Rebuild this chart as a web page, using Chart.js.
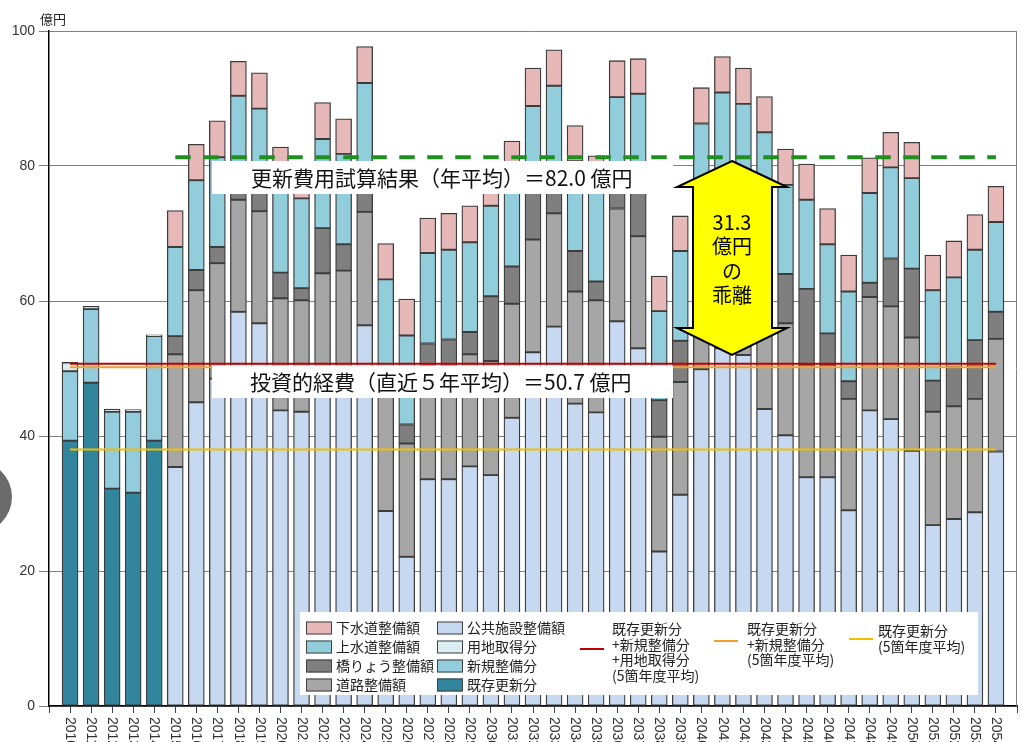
<!DOCTYPE html>
<html lang="ja">
<head>
<meta charset="utf-8">
<title>更新費用試算結果</title>
<script src="https://cdn.jsdelivr.net/npm/chart.js@4.4.1/dist/chart.umd.min.js"></script>
<style>
  html, body { margin: 0; padding: 0; background: #fff; }
  #wrap { position: relative; width: 1022px; height: 742px; }
</style>
</head>
<body>
<div id="wrap"><canvas id="chart"></canvas></div>
<script>
// 年度
const years = ['2010','2011','2012','2013','2014','2015','2016','2017','2018','2019',
  '2020','2021','2022','2023','2024','2025','2026','2027','2028','2029',
  '2030','2031','2032','2033','2034','2035','2036','2037','2038','2039',
  '2040','2041','2042','2043','2044','2045','2046','2047','2048','2049',
  '2050','2051','2052','2053','2054'];
const pastYears = years.slice(0, 5);     // 実績 2010-2014
const futureYears = years.slice(5);      // 試算 2015-2054

// 実績（億円）
const existingRenewal = [39.3, 47.9, 32.2, 31.6, 39.3];
const newDevelopment  = [10.3, 10.9, 11.4, 12.0, 15.5];
const landAcquisition = [1.3, 0.4, 0.4, 0.3, 0.2];

// 試算（億円）
const publicFacilities = [35.4, 45.0, 48.5, 58.4, 56.7, 43.8, 43.6, 47.5, 47.9, 56.4,
  28.9, 22.1, 33.6, 33.6, 35.5, 34.2, 42.7, 52.4, 56.2, 44.8,
  43.5, 57.0, 53.0, 22.9, 31.3, 49.9, 53.0, 52.0, 44.0, 40.1,
  33.9, 33.9, 29.0, 43.8, 42.5, 37.8, 26.8, 27.7, 28.7, 37.7];
const roads = [16.7, 16.6, 17.1, 16.6, 16.6, 16.6, 16.5, 16.6, 16.6, 16.8,
  17.5, 16.8, 16.7, 16.7, 16.6, 16.9, 16.9, 16.7, 16.8, 16.6,
  16.6, 16.7, 16.6, 17.0, 16.7, 16.6, 16.6, 16.6, 16.7, 16.6,
  16.7, 16.7, 16.5, 16.8, 16.7, 16.8, 16.8, 16.7, 16.8, 16.7];
const bridges = [2.7, 3.0, 2.4, 2.5, 2.7, 3.8, 1.8, 6.7, 3.9, 3.3,
  2.5, 2.8, 3.4, 4.0, 3.3, 9.6, 5.5, 7.4, 3.8, 6.0,
  2.8, 2.8, 6.9, 5.4, 6.1, 5.0, 8.0, 7.3, 11.0, 7.3,
  11.2, 4.6, 2.6, 2.1, 7.1, 10.2, 4.6, 5.8, 8.7, 4.0];
const waterSupply = [13.2, 13.3, 13.3, 12.9, 12.5, 13.8, 13.3, 13.2, 13.4, 15.8,
  14.3, 13.2, 13.4, 13.3, 13.3, 13.4, 13.3, 12.4, 15.1, 13.3,
  13.3, 13.7, 14.2, 13.2, 13.3, 14.8, 13.3, 13.3, 13.3, 13.2,
  13.2, 13.2, 13.3, 13.3, 13.5, 13.4, 13.4, 13.3, 13.4, 13.3];
const sewerage = [5.4, 5.3, 5.4, 5.1, 5.3, 4.8, 4.3, 5.4, 5.2, 5.4,
  5.3, 5.4, 5.2, 5.4, 5.4, 5.3, 5.3, 5.6, 5.3, 5.3,
  5.3, 5.4, 5.2, 5.2, 5.2, 5.3, 5.3, 5.3, 5.3, 5.3,
  5.3, 5.3, 5.4, 5.2, 5.2, 5.3, 5.2, 5.4, 5.2, 5.3];

// 平均線
const avgYears = ['2010', '2054'];
const avgRenewNewLand = [50.7, 50.7];   // 既存更新分+新規整備分+用地取得分
const avgRenewNew = [50.2, 50.2];       // 既存更新分+新規整備分
const avgRenew = [38.0, 38.0];          // 既存更新分
const estYears = ['2015', '2054'];
const estAverage = [81.3, 81.3];        // 更新費用試算結果（年平均）

const yTicks = [0, 20, 40, 60, 80, 100];

const pts = (xs, vs) => xs.map((x, i) => ({ x: x, y: vs[i] }));

function barSet(label, xs, vs, color) {
  return { type: 'bar', label: label, data: pts(xs, vs), backgroundColor: color,
    borderColor: '#3c3c3c', borderWidth: 1.3, borderSkipped: false,
    barThickness: 16, order: 1 };
}
function lineSet(label, xs, vs, color, width, dash, stack) {
  return { type: 'line', label: label, data: pts(xs, vs), borderColor: color,
    borderWidth: width, borderDash: dash, pointRadius: 0, fill: false,
    stack: stack, order: 0 };
}

const jp = '"Noto Sans CJK JP", "Noto Sans", sans-serif';

function legendSwatch(ctx, x, y, color, text) {
  ctx.fillStyle = color;
  ctx.fillRect(x, y - 6.5, 26, 13);
  ctx.strokeStyle = '#404040';
  ctx.lineWidth = 1;
  ctx.strokeRect(x + 0.5, y - 6, 25, 12);
  ctx.fillStyle = '#222';
  ctx.fillText(text, x + 30, y);
}
function legendLine(ctx, x, y, color, textX, textY, lines) {
  ctx.strokeStyle = color;
  ctx.lineWidth = 2;
  ctx.beginPath(); ctx.moveTo(x, y); ctx.lineTo(x + 24, y); ctx.stroke();
  ctx.fillStyle = '#222';
  lines.forEach((t, i) => ctx.fillText(t, textX, textY + i * 15.5));
}

const extras = {
  id: 'extras',
  afterDraw(chart) {
    const ctx = chart.ctx;
    const area = chart.chartArea;
    const xs = chart.scales.x;
    ctx.save();

    // 右枠
    ctx.strokeStyle = '#808080';
    ctx.lineWidth = 1;
    ctx.beginPath(); ctx.moveTo(area.right - 0.5, area.top); ctx.lineTo(area.right - 0.5, area.bottom); ctx.stroke();

    // 年度ラベル（縦書き）
    ctx.fillStyle = '#333';
    ctx.font = '14px "Liberation Sans", sans-serif';
    ctx.textAlign = 'left';
    ctx.textBaseline = 'middle';
    years.forEach(y => {
      const px = xs.getPixelForValue(xs.getLabels().indexOf(y));
      ctx.save();
      ctx.translate(px, 717);
      ctx.rotate(Math.PI / 2);
      ctx.fillText(y, 0, 0);
      ctx.restore();
    });

    // 単位
    ctx.font = '13px ' + jp;
    ctx.fillStyle = '#222';
    ctx.fillText('億円', 40, 19);

    // 注記ボックス
    ctx.fillStyle = '#fff';
    ctx.fillRect(212, 161, 461, 33);
    ctx.fillRect(212, 365.5, 461, 32.5);
    ctx.fillStyle = '#111';
    ctx.font = '21px ' + jp;
    ctx.fillText('更新費用試算結果（年平均）＝82.0 億円', 251, 178);
    ctx.fillText('投資的経費（直近５年平均）＝50.7 億円', 250, 382);

    // 乖離の矢印
    ctx.beginPath();
    [[732,161],[787,187],[772,187],[772,328],[787,328],[732,355],
     [677,328],[693,328],[693,187],[677,187]].forEach((p, i) => {
      if (i === 0) ctx.moveTo(p[0], p[1]); else ctx.lineTo(p[0], p[1]);
    });
    ctx.closePath();
    ctx.fillStyle = '#ffff00';
    ctx.fill();
    ctx.strokeStyle = '#000';
    ctx.lineWidth = 2;
    ctx.lineJoin = 'miter';
    ctx.stroke();
    ctx.fillStyle = '#000';
    ctx.font = '20px ' + jp;
    ctx.textAlign = 'center';
    ['31.3', '億円', 'の', '乖離'].forEach((t, i) => ctx.fillText(t, 732, 222 + i * 24.5));

    // 凡例
    ctx.textAlign = 'left';
    ctx.fillStyle = '#fff';
    ctx.fillRect(300, 612, 678, 83);
    ctx.font = '14px ' + jp;
    legendSwatch(ctx, 306, 628, '#e6b9b8', '下水道整備額');
    legendSwatch(ctx, 306, 647, '#92cddc', '上水道整備額');
    legendSwatch(ctx, 306, 666, '#7f7f7f', '橋りょう整備額');
    legendSwatch(ctx, 306, 685, '#a6a6a6', '道路整備額');
    legendSwatch(ctx, 437, 628, '#c6d9f0', '公共施設整備額');
    legendSwatch(ctx, 437, 647, '#dbeef4', '用地取得分');
    legendSwatch(ctx, 437, 666, '#93cddd', '新規整備分');
    legendSwatch(ctx, 437, 685, '#31859c', '既存更新分');
    legendLine(ctx, 580, 649, '#c00000', 612, 629, ['既存更新分', '+新規整備分', '+用地取得分', '(5箇年度平均)']);
    legendLine(ctx, 714, 641, '#f0a030', 747, 629, ['既存更新分', '+新規整備分', '(5箇年度平均)']);
    legendLine(ctx, 849, 639, '#f0c000', 878, 631, ['既存更新分', '(5箇年度平均)']);

    // 左端の灰色の円
    ctx.fillStyle = '#6b6b6b';
    ctx.beginPath(); ctx.arc(-24, 497, 36, 0, Math.PI * 2); ctx.fill();

    ctx.restore();
  }
};

new Chart(document.getElementById('chart'), {
  data: {
    labels: [''].concat(years, [' ']),
    datasets: [
      barSet('既存更新分', pastYears, existingRenewal, '#31859c'),
      barSet('新規整備分', pastYears, newDevelopment, '#93cddd'),
      barSet('用地取得分', pastYears, landAcquisition, '#dbeef4'),
      barSet('公共施設整備額', futureYears, publicFacilities, '#c6d9f0'),
      barSet('道路整備額', futureYears, roads, '#a6a6a6'),
      barSet('橋りょう整備額', futureYears, bridges, '#7f7f7f'),
      barSet('上水道整備額', futureYears, waterSupply, '#92cddc'),
      barSet('下水道整備額', futureYears, sewerage, '#e6b9b8'),
      lineSet('既存更新分+新規整備分+用地取得分(5箇年度平均)', avgYears, avgRenewNewLand, '#c00000', 2, [], 'a'),
      lineSet('既存更新分+新規整備分(5箇年度平均)', avgYears, avgRenewNew, '#f0a030', 2, [], 'b'),
      lineSet('既存更新分(5箇年度平均)', avgYears, avgRenew, '#f0c000', 2, [], 'c'),
      lineSet('更新費用試算結果（年平均）', estYears, estAverage, '#1f8f1f', 4, [15.5, 12.5], 'd')
    ]
  },
  options: {
    responsive: true,
    maintainAspectRatio: false,
    animation: false,
    events: [],
    layout: { padding: { top: 31, right: 5, bottom: 0, left: 0 } },
    plugins: { legend: { display: false }, tooltip: { enabled: false } },
    scales: {
      x: {
        type: 'category',
        stacked: true,
        offset: false,
        grid: { offset: false, drawOnChartArea: false, drawTicks: true, tickLength: 7, color: '#404040' },
        border: { color: '#000', width: 1.5 },
        ticks: { display: false },
        afterFit(s) { s.height = 36; }
      },
      y: {
        stacked: true,
        min: 0,
        max: 100,
        afterBuildTicks(s) { s.ticks = yTicks.map(v => ({ value: v })); },
        grid: { color: '#808080', tickLength: 10, lineWidth: 1 },
        border: { color: '#000', width: 1.5 },
        ticks: { color: '#333', padding: 4, font: { size: 14, family: '"Liberation Sans", sans-serif' } },
        afterFit(s) { s.width = 49; }
      }
    }
  },
  plugins: [extras]
});
</script>
</body>
</html>
